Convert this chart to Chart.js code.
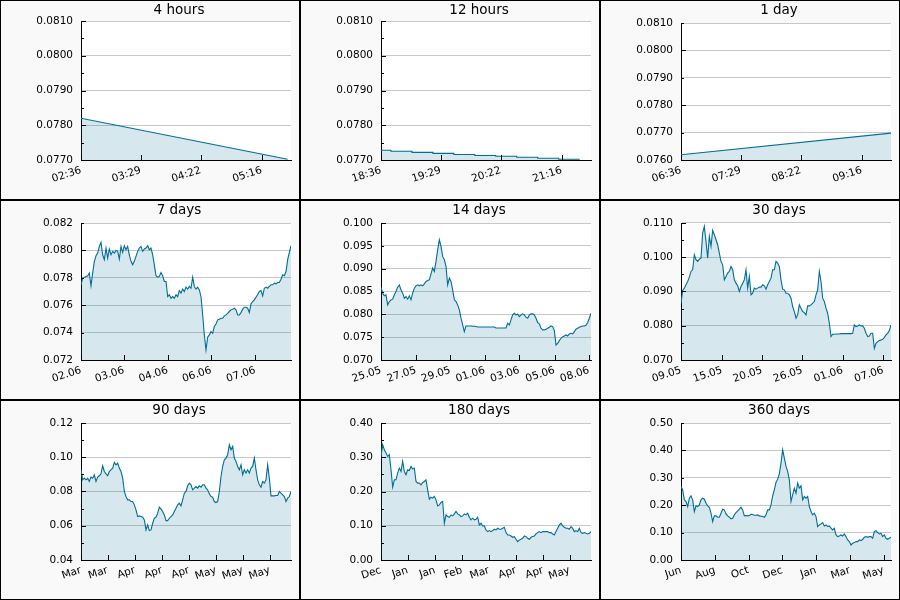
<!DOCTYPE html>
<html>
<head>
<meta charset="utf-8">
<script src="https://cdn.jsdelivr.net/npm/chart.js@4/dist/chart.umd.min.js"></script>
<style>
  body { margin: 0; background: #fff; }
  #grid { display: grid; grid-template-columns: repeat(3, 300px); grid-template-rows: repeat(3, 200px); width: 900px; height: 600px; }
  .panel { box-sizing: border-box; width: 300px; height: 200px; border: 1px solid #000; background: #f9f9f9; }
  .panel canvas { display: block; }
</style>
</head>
<body>
<div id="grid"></div>
<script>
// ---- data ----
const titles = ['4 hours', '12 hours', '1 day', '7 days', '14 days', '30 days', '90 days', '180 days', '360 days'];

// short ranges: x in minutes from the first tick label
const clockTickAt = [0, 53, 106, 160];
const h4Labels = ['02:36', '03:29', '04:22', '05:16'];
const h4Times = [0, 183];
const h4Values = [0.07820, 0.07702];

const h12Labels = ['18:36', '19:29', '20:22', '21:16'];
const h12Times = [0, 8.8, 27.4, 46.0, 64.5, 83.1, 101.7, 120.2, 138.8, 157.4, 176.0];
const h12Values = [0.07728, 0.07725, 0.07722, 0.07719, 0.07716, 0.07713, 0.07711, 0.07708, 0.07705, 0.07702, 0.07702];

const d1Labels = ['06:36', '07:29', '08:22', '09:16'];
const d1Times = [0, 186];
const d1Values = [0.07619, 0.07698];

// longer ranges: x in days, samples evenly spaced over the range
const d7Labels = ['02.06', '03.06', '04.06', '06.06', '07.06'];
const d7TickAt = [0, 1.43, 2.89, 4.34, 5.81];
const d7Values = [
  0.07749, 0.07798, 0.07802, 0.07810, 0.07815, 0.07834, 0.07741, 0.07834, 0.07920, 0.07961,
  0.07980, 0.08029, 0.08059, 0.07968, 0.07932, 0.08017, 0.07944, 0.08010, 0.07968, 0.07993,
  0.07980, 0.08000, 0.07993, 0.07937, 0.08029, 0.07985, 0.08034, 0.08005, 0.08029, 0.07968,
  0.07920, 0.07895, 0.07920, 0.07956, 0.07993, 0.08017, 0.08029, 0.07993, 0.08010, 0.08017,
  0.08034, 0.08005, 0.08017, 0.07968, 0.07895, 0.07815, 0.07805, 0.07810, 0.07839, 0.07815,
  0.07773, 0.07773, 0.07663, 0.07676, 0.07651, 0.07663, 0.07651, 0.07676, 0.07663, 0.07707,
  0.07688, 0.07717, 0.07700, 0.07732, 0.07717, 0.07737, 0.07724, 0.07805, 0.07737, 0.07717,
  0.07732, 0.07712, 0.07663, 0.07529, 0.07383, 0.07273, 0.07366, 0.07383, 0.07407, 0.07395,
  0.07444, 0.07463, 0.07493, 0.07498, 0.07505, 0.07505, 0.07522, 0.07529, 0.07541, 0.07554,
  0.07566, 0.07571, 0.07578, 0.07566, 0.07529, 0.07529, 0.07546, 0.07571, 0.07585, 0.07585,
  0.07578, 0.07546, 0.07610, 0.07627, 0.07639, 0.07659, 0.07676, 0.07700, 0.07707, 0.07668,
  0.07724, 0.07732, 0.07724, 0.07737, 0.07749, 0.07749, 0.07761, 0.07756, 0.07766, 0.07766,
  0.07790, 0.07822, 0.07815, 0.07846, 0.07932, 0.07985, 0.08034
];

const d14Labels = ['25.05', '27.05', '29.05', '01.06', '03.06', '05.06', '08.06'];
const d14TickAt = [0, 2.33, 4.62, 6.91, 9.22, 11.57, 13.87];
const d14Values = [
  0.08595, 0.08463, 0.08405, 0.08427, 0.08207, 0.08280, 0.08317, 0.08332, 0.08427, 0.08500,
  0.08595, 0.08646, 0.08537, 0.08463, 0.08354, 0.08390, 0.08332, 0.08405, 0.08317, 0.08463,
  0.08573, 0.08624, 0.08646, 0.08624, 0.08646, 0.08624, 0.08668, 0.08720, 0.08741, 0.08756,
  0.08888, 0.09012, 0.08939, 0.09159, 0.09415, 0.09634, 0.09488, 0.09268, 0.09195, 0.09049,
  0.08646, 0.08793, 0.08720, 0.08537, 0.08317, 0.08280, 0.08207, 0.08098, 0.07915, 0.07768,
  0.07622, 0.07746, 0.07746, 0.07746, 0.07746, 0.07739, 0.07739, 0.07732, 0.07724, 0.07724,
  0.07724, 0.07724, 0.07724, 0.07724, 0.07724, 0.07724, 0.07724, 0.07724, 0.07724, 0.07702,
  0.07702, 0.07702, 0.07702, 0.07702, 0.07702, 0.07702, 0.07805, 0.07768, 0.07878, 0.07988,
  0.08024, 0.07988, 0.08002, 0.07951, 0.07988, 0.08010, 0.07988, 0.07937, 0.07915, 0.07988,
  0.08010, 0.08010, 0.07988, 0.07915, 0.07820, 0.07790, 0.07695, 0.07659, 0.07659, 0.07673,
  0.07695, 0.07717, 0.07746, 0.07732, 0.07644, 0.07329, 0.07366, 0.07424, 0.07476, 0.07512,
  0.07527, 0.07549, 0.07527, 0.07571, 0.07585, 0.07571, 0.07622, 0.07673, 0.07695, 0.07717,
  0.07732, 0.07746, 0.07746, 0.07761, 0.07820, 0.07915, 0.08024
];

const d30Labels = ['09.05', '15.05', '20.05', '26.05', '01.06', '07.06'];
const d30TickAt = [0, 5.86, 11.57, 17.33, 23.1, 28.9];
const d30Values = [
  0.08659, 0.09029, 0.09098, 0.09195, 0.09293, 0.09420, 0.09585, 0.09634, 0.10073, 0.09927,
  0.09878, 0.09946, 0.09976, 0.10707, 0.10902, 0.10463, 0.09976, 0.10610, 0.10317, 0.10785,
  0.10659, 0.10512, 0.10366, 0.10122, 0.09878, 0.09780, 0.09341, 0.09439, 0.09537, 0.09585,
  0.09732, 0.09634, 0.09341, 0.09244, 0.09166, 0.09000, 0.09146, 0.09244, 0.09341, 0.09634,
  0.09098, 0.09439, 0.08902, 0.08951, 0.09098, 0.09068, 0.09098, 0.09127, 0.09127, 0.09195,
  0.09166, 0.09068, 0.09195, 0.09293, 0.09390, 0.09634, 0.09634, 0.09878, 0.09829, 0.09732,
  0.09341, 0.09068, 0.09049, 0.08951, 0.08951, 0.08902, 0.08805, 0.08561, 0.08415, 0.08220,
  0.08317, 0.08610, 0.08512, 0.08415, 0.08385, 0.08317, 0.08580, 0.08580, 0.08610, 0.08659,
  0.08707, 0.08902, 0.09049, 0.09585, 0.09293, 0.08805, 0.08707, 0.08512, 0.08366, 0.08073,
  0.07683, 0.07751, 0.07751, 0.07761, 0.07761, 0.07761, 0.07771, 0.07771, 0.07771, 0.07771,
  0.07771, 0.07771, 0.07771, 0.07780, 0.08024, 0.07976, 0.07995, 0.08024, 0.07995, 0.07995,
  0.07927, 0.07780, 0.07683, 0.07702, 0.07780, 0.07780, 0.07341, 0.07488, 0.07537, 0.07566,
  0.07585, 0.07605, 0.07663, 0.07732, 0.07780, 0.07859, 0.08024
];

const d90Labels = ['Mar', 'Mar', 'Apr', 'Apr', 'Apr', 'May', 'May', 'May'];
const d90TickAt = [0, 11.4, 23.1, 34.7, 46.3, 57.9, 69.4, 80.9];
const d90Values = [
  0.09268, 0.08683, 0.08780, 0.08683, 0.08780, 0.08585, 0.08839, 0.08780, 0.08976, 0.08585,
  0.08839, 0.08917, 0.09034, 0.09502, 0.09170, 0.09034, 0.08917, 0.09170, 0.09268, 0.09366,
  0.09697, 0.09560, 0.09658, 0.09366, 0.09170, 0.08780, 0.08000, 0.07707, 0.07512, 0.07512,
  0.07414, 0.07414, 0.07219, 0.06927, 0.06536, 0.06575, 0.06536, 0.06497, 0.06341, 0.05756,
  0.06049, 0.05717, 0.05756, 0.06146, 0.06439, 0.06497, 0.06731, 0.07083, 0.06966, 0.06829,
  0.06634, 0.06302, 0.06302, 0.06439, 0.06536, 0.06634, 0.06829, 0.07024, 0.07219, 0.07317,
  0.07161, 0.07512, 0.07902, 0.08000, 0.08331, 0.08487, 0.08390, 0.08097, 0.08195, 0.08292,
  0.08195, 0.08331, 0.08253, 0.08390, 0.08390, 0.08195, 0.08097, 0.07863, 0.07707, 0.07668,
  0.07414, 0.07356, 0.07414, 0.08000, 0.08878, 0.09463, 0.09853, 0.09951, 0.10146, 0.10731,
  0.10439, 0.10634, 0.09951, 0.09756, 0.09463, 0.09268, 0.09560, 0.08976, 0.09268, 0.09073,
  0.09268, 0.09073, 0.09366, 0.09463, 0.09951, 0.09268, 0.08683, 0.08390, 0.08253, 0.08585,
  0.08487, 0.08683, 0.09560, 0.08780, 0.07746, 0.07746, 0.07746, 0.07765, 0.07765, 0.08000,
  0.07902, 0.07804, 0.07707, 0.07414, 0.07609, 0.07707, 0.08000
];

const d180Labels = ['Dec', 'Jan', 'Jan', 'Feb', 'Mar', 'Apr', 'Apr', 'May'];
const d180TickAt = [0, 22.9, 46.3, 69.4, 92.6, 115.7, 138.9, 161.7];
const d180Values = [
  0.3024, 0.3366, 0.3220, 0.3122, 0.3024, 0.3073, 0.2634, 0.2127, 0.2341, 0.2341,
  0.2537, 0.2683, 0.2585, 0.2878, 0.2585, 0.2488, 0.2634, 0.2615, 0.2732, 0.2654,
  0.2683, 0.2293, 0.2244, 0.2244, 0.2195, 0.2263, 0.2293, 0.2341, 0.2049, 0.1776,
  0.1834, 0.1805, 0.1854, 0.1756, 0.1580, 0.1610, 0.1678, 0.1707, 0.1073, 0.1317,
  0.1268, 0.1249, 0.1317, 0.1288, 0.1346, 0.1415, 0.1346, 0.1317, 0.1268, 0.1288,
  0.1346, 0.1317, 0.1366, 0.1249, 0.1171, 0.1220, 0.1171, 0.1190, 0.1249, 0.1024,
  0.1073, 0.0995, 0.0995, 0.0878, 0.0829, 0.0859, 0.0829, 0.0859, 0.0898, 0.0878,
  0.0927, 0.0898, 0.0898, 0.0927, 0.0956, 0.0800, 0.0732, 0.0732, 0.0702, 0.0663,
  0.0683, 0.0605, 0.0537, 0.0585, 0.0605, 0.0634, 0.0702, 0.0683, 0.0634, 0.0605,
  0.0663, 0.0683, 0.0702, 0.0761, 0.0800, 0.0829, 0.0800, 0.0829, 0.0829, 0.0829,
  0.0829, 0.0800, 0.0800, 0.0761, 0.0732, 0.0829, 0.0927, 0.1024, 0.1073, 0.0995,
  0.0956, 0.0927, 0.0927, 0.0898, 0.0976, 0.0927, 0.0829, 0.0859, 0.0829, 0.0927,
  0.0800, 0.0780, 0.0800, 0.0780, 0.0761, 0.0780, 0.0829
];

const d360Labels = ['Jun', 'Aug', 'Oct', 'Dec', 'Jan', 'Mar', 'May'];
const d360TickAt = [0, 58.3, 115.9, 173.7, 231.4, 289.7, 347.3];
const d360Values = [
  0.2683, 0.2561, 0.2195, 0.2134, 0.1951, 0.2256, 0.2341, 0.2195, 0.1768, 0.1976,
  0.1951, 0.2012, 0.2195, 0.2256, 0.2220, 0.2073, 0.1976, 0.1927, 0.1707, 0.1402,
  0.1610, 0.1610, 0.1561, 0.1561, 0.1707, 0.1854, 0.1829, 0.1683, 0.1610, 0.1561,
  0.1500, 0.1524, 0.1646, 0.1732, 0.1793, 0.1854, 0.1927, 0.1829, 0.1610, 0.1622,
  0.1610, 0.1622, 0.1671, 0.1659, 0.1634, 0.1634, 0.1646, 0.1610, 0.1598, 0.1585,
  0.1561, 0.1646, 0.1829, 0.1829, 0.2012, 0.2341, 0.2561, 0.2829, 0.2951, 0.3146,
  0.3537, 0.4024, 0.3720, 0.3415, 0.3232, 0.2927, 0.2134, 0.2378, 0.2622, 0.2439,
  0.2805, 0.2622, 0.2707, 0.2195, 0.2317, 0.2256, 0.2317, 0.1951, 0.1768, 0.1646,
  0.1707, 0.1585, 0.1220, 0.1280, 0.1317, 0.1366, 0.1244, 0.1280, 0.1220, 0.1244,
  0.1159, 0.1098, 0.1159, 0.0915, 0.0854, 0.0878, 0.0915, 0.0878, 0.0951, 0.0854,
  0.0732, 0.0671, 0.0549, 0.0610, 0.0634, 0.0671, 0.0671, 0.0732, 0.0707, 0.0756,
  0.0829, 0.0854, 0.0829, 0.0854, 0.0854, 0.0793, 0.1037, 0.1073, 0.1000, 0.0951,
  0.0976, 0.0854, 0.0915, 0.0793, 0.0756, 0.0793, 0.0829
];

// ---- panel setup ----
const LINE = '#006e96';
const FILL = 'rgba(0, 110, 150, 0.16)';
const GRID = '#c8c8c8';

const panels = [
  { values: h4Values, times: h4Times, xMax: 186, tickAt: clockTickAt, labels: h4Labels, yMin: 0.077, yMax: 0.081, yStep: 0.001, digits: 4, top: 20 },
  { values: h12Values, times: h12Times, xMax: 186, tickAt: clockTickAt, labels: h12Labels, yMin: 0.077, yMax: 0.081, yStep: 0.001, digits: 4, top: 20, stepped: 'before' },
  { values: d1Values, times: d1Times, xMax: 186, tickAt: clockTickAt, labels: d1Labels, yMin: 0.076, yMax: 0.081, yStep: 0.001, digits: 4, top: 22 },
  { values: d7Values, xMax: 7, tickAt: d7TickAt, labels: d7Labels, yMin: 0.072, yMax: 0.082, yStep: 0.002, digits: 3, top: 22 },
  { values: d14Values, xMax: 14, tickAt: d14TickAt, labels: d14Labels, yMin: 0.070, yMax: 0.100, yStep: 0.005, digits: 3, top: 22 },
  { values: d30Values, xMax: 30, tickAt: d30TickAt, labels: d30Labels, yMin: 0.070, yMax: 0.110, yStep: 0.010, digits: 3, top: 22 },
  { values: d90Values, xMax: 90, tickAt: d90TickAt, labels: d90Labels, yMin: 0.04, yMax: 0.12, yStep: 0.02, digits: 2, top: 22 },
  { values: d180Values, xMax: 180, tickAt: d180TickAt, labels: d180Labels, yMin: 0, yMax: 0.40, yStep: 0.10, digits: 2, top: 22 },
  { values: d360Values, xMax: 360, tickAt: d360TickAt, labels: d360Labels, yMin: 0, yMax: 0.50, yStep: 0.10, digits: 2, top: 22 }
];

Chart.defaults.font.family = "'DejaVu Sans', sans-serif";
Chart.defaults.color = '#000';

// white plot area on the grey panel
const plotBg = {
  id: 'plotBg',
  beforeDraw(chart) {
    const { ctx, chartArea: a } = chart;
    ctx.save();
    ctx.fillStyle = '#fff';
    ctx.fillRect(a.left, a.top, a.right - a.left, a.bottom - a.top);
    ctx.restore();
  }
};

// panel heading, centred a little left of the plot centre like the original
const panelTitle = {
  id: 'panelTitle',
  afterDraw(chart, args, opts) {
    const ctx = chart.ctx;
    ctx.save();
    ctx.font = "13.5px 'DejaVu Sans', sans-serif";
    ctx.fillStyle = '#000';
    ctx.textAlign = 'center';
    ctx.textBaseline = 'middle';
    ctx.fillText(opts.text, 178, 9.3);
    ctx.restore();
  }
};

// tick marks pointing into the plot, short ones for the minor y steps
const innerTicks = {
  id: 'innerTicks',
  afterDraw(chart) {
    const { ctx, chartArea: a, scales: { x, y } } = chart;
    ctx.save();
    ctx.strokeStyle = '#000';
    ctx.lineWidth = 1;
    ctx.beginPath();
    y.ticks.forEach((t, i) => {
      const py = Math.round(y.getPixelForValue(t.value)) + 0.5;
      ctx.moveTo(a.left, py);
      ctx.lineTo(a.left + (i % 2 === 0 ? 5 : 3), py);
    });
    x.ticks.forEach(t => {
      const px = Math.round(x.getPixelForValue(t.value)) + 0.5;
      ctx.moveTo(px, a.bottom);
      ctx.lineTo(px, a.bottom - 5);
    });
    ctx.stroke();
    ctx.restore();
  }
};

const grid = document.getElementById('grid');

panels.forEach((p, n) => {
  const box = document.createElement('div');
  box.className = 'panel';
  const canvas = document.createElement('canvas');
  canvas.width = 298;
  canvas.height = 198;
  box.appendChild(canvas);
  grid.appendChild(box);

  const count = p.values.length;
  const xs = p.times || p.values.map((v, i) => i * p.xMax / (count - 1));
  const points = p.values.map((v, i) => ({ x: xs[i], y: v }));
  const minorStep = p.yStep / 2;
  const minorCount = Math.round((p.yMax - p.yMin) / minorStep);

  new Chart(canvas, {
    type: 'line',
    data: {
      datasets: [{
        data: points,
        borderColor: LINE,
        backgroundColor: FILL,
        borderWidth: 1.1,
        pointRadius: 0,
        tension: 0,
        fill: 'start',
        stepped: p.stepped || false
      }]
    },
    options: {
      responsive: false,
      devicePixelRatio: 1,
      animation: false,
      events: [],
      layout: { padding: { left: 0, right: 8, top: p.top, bottom: 0 } },
      plugins: {
        legend: { display: false },
        tooltip: { enabled: false },
        title: { display: false },
        panelTitle: { text: titles[n] }
      },
      scales: {
        x: {
          type: 'linear',
          min: 0,
          max: p.xMax,
          grid: { display: false, drawTicks: false, tickLength: 0 },
          border: { color: '#000' },
          afterBuildTicks: s => { s.ticks = p.tickAt.map(v => ({ value: v })); },
          afterFit: s => { s.height = 39; },
          ticks: {
            autoSkip: false,
            minRotation: 18,
            maxRotation: 18,
            padding: 4,
            font: { size: 10.5 },
            callback: (v, i) => p.labels[i]
          }
        },
        y: {
          min: p.yMin,
          max: p.yMax,
          afterBuildTicks: s => {
            const list = [];
            for (let k = 0; k <= minorCount; k++) list.push({ value: p.yMin + k * minorStep });
            s.ticks = list;
          },
          afterFit: s => { s.width = 80; },
          grid: { drawTicks: false, tickLength: 0, color: c => (c.index % 2 === 0 ? GRID : 'rgba(0,0,0,0)') },
          border: { color: '#000' },
          ticks: {
            padding: 8,
            font: { size: 10.5 },
            callback: (v, i) => (i % 2 === 0 ? v.toFixed(p.digits) : '')
          }
        }
      }
    },
    plugins: [plotBg, innerTicks, panelTitle]
  });
});
</script>
</body>
</html>
